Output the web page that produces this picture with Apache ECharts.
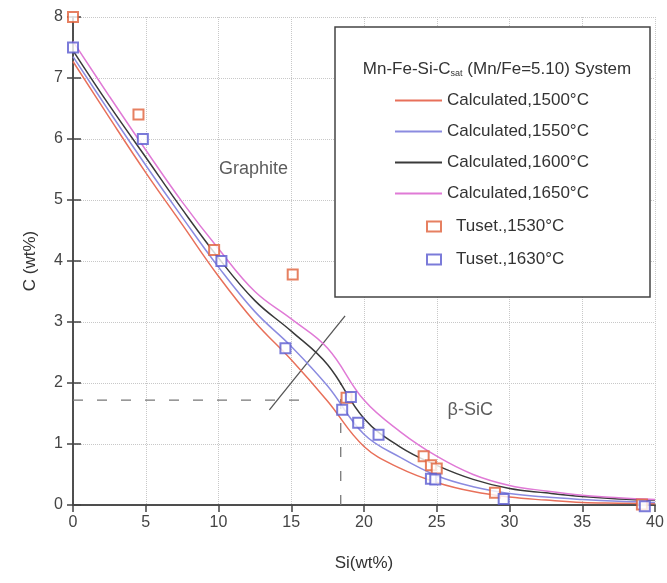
<!DOCTYPE html>
<html>
<head>
<meta charset="utf-8">
<script src="https://cdn.jsdelivr.net/npm/echarts@6/dist/echarts.min.js"></script>
<style>
  html, body { margin: 0; padding: 0; background: #fff; }
  #main { width: 667px; height: 583px; }
</style>
</head>
<body>
<div id="main"></div>
<script>
// ---------- data ----------
var xTicks = [0, 5, 10, 15, 20, 25, 30, 35, 40];

// calculated curves [Si, C], sampled every 2.5 wt% Si
var calc1500 = [[0,7.27],[2.5,6.35],[5,5.45],[7.5,4.6],[10,3.75],[12.5,3.0],[15,2.38],[17.5,1.7],[20,0.96],[22.5,0.6],[25,0.37],[27.5,0.22],[30,0.13],[32.5,0.08],[35,0.04],[37.5,0.03],[40,0.02]];
var calc1550 = [[0,7.35],[2.5,6.45],[5,5.57],[7.5,4.72],[10,3.9],[12.5,3.17],[15,2.6],[17.5,1.95],[20,1.16],[22.5,0.78],[25,0.48],[27.5,0.3],[30,0.19],[32.5,0.13],[35,0.09],[37.5,0.06],[40,0.04]];
var calc1600 = [[0,7.45],[2.5,6.55],[5,5.7],[7.5,4.85],[10,4.05],[12.5,3.35],[15,2.85],[17.5,2.3],[20,1.42],[22.5,0.95],[25,0.65],[27.5,0.42],[30,0.27],[32.5,0.2],[35,0.14],[37.5,0.1],[40,0.08]];
var calc1650 = [[0,7.6],[2.5,6.7],[5,5.82],[7.5,4.97],[10,4.2],[12.5,3.5],[15,3.05],[17.5,2.57],[20,1.72],[22.5,1.2],[25,0.8],[27.5,0.5],[30,0.32],[32.5,0.23],[35,0.16],[37.5,0.12],[40,0.09]];

// Tuset. measurements
var tuset1530 = [[0,8.0],[4.5,6.4],[9.7,4.18],[15.1,3.78],[18.8,1.76],[24.1,0.8],[24.6,0.65],[25.0,0.6],[29.0,0.2],[39.1,0.01]];
var tuset1630 = [[0,7.5],[4.8,6.0],[10.2,4.0],[14.6,2.57],[18.5,1.56],[19.1,1.77],[19.6,1.35],[21.0,1.15],[24.6,0.43],[24.9,0.42],[29.6,0.1],[39.3,-0.02]];

// annotations
var diagLine = [[13.5,1.56],[18.7,3.1]];
var dashH = [[0,1.72],[15.6,1.72]];
var dashV = [[18.4,0],[18.4,2.0]];
var regionLabels = [
    {value: [12.4, 5.5], name: 'Graphite'},
    {value: [27.3, 1.55], name: 'β-SiC'}
];

var lineNames = ['Calculated,1500°C', 'Calculated,1550°C', 'Calculated,1600°C', 'Calculated,1650°C'];
var pointNames = ['Tuset.,1530°C', 'Tuset.,1630°C'];
var lineColors = ['#e8705a', '#8b8be0', '#3a3a3a', '#e07ad6'];
var pointColors = ['#e0603a', '#5a5ad0'];

var font = '"Liberation Sans", Arial, sans-serif';

var chart = echarts.init(document.getElementById('main'));

function calcSeries(name, data, color) {
    return {
        name: name,
        type: 'line',
        data: data,
        smooth: 0.4,
        showSymbol: false,
        symbol: 'none',
        lineStyle: {color: color, width: 1.5},
        itemStyle: {color: color},
        z: 2
    };
}

function pointSeries(name, data, color) {
    return {
        name: name,
        type: 'scatter',
        data: data,
        symbol: 'emptyRect',
        symbolSize: 10,
        clip: false,
        itemStyle: {color: color, borderColor: color, borderWidth: 1.5},
        z: 5
    };
}

function plainLine(data, dash) {
    return {
        type: 'line',
        data: data,
        symbol: 'none',
        silent: true,
        lineStyle: {color: dash ? '#777' : '#555', width: 1.3, type: dash ? [10, 14] : 'solid'},
        z: 1
    };
}

var option = {
    animation: false,
    backgroundColor: '#fff',
    textStyle: {fontFamily: font},
    grid: {left: 73, right: 12, top: 17, bottom: 78},
    title: {
        text: 'Mn-Fe-Si-C{sub|sat} (Mn/Fe=5.10) System',
        left: 492,
        top: 55,
        textAlign: 'center',
        textStyle: {
            fontFamily: font, fontSize: 17, fontWeight: 'normal', color: '#333',
            rich: {sub: {fontSize: 9, verticalAlign: 'bottom', padding: [9, 0, 0, 0], color: '#333'}}
        },
        z: 10
    },
    graphic: [{
        type: 'rect',
        shape: {x: 335, y: 27, width: 315, height: 270},
        style: {fill: '#fff', stroke: '#444', lineWidth: 1.5},
        z: 8
    }],
    legend: [{
        data: lineNames,
        orient: 'vertical',
        left: 390,
        top: 86,
        icon: 'rect',
        itemWidth: 47,
        itemHeight: 2,
        itemGap: 12,
        textStyle: {fontFamily: font, fontSize: 17, color: '#333', lineHeight: 19},
        z: 10
    }, {
        data: pointNames,
        orient: 'vertical',
        left: 421,
        top: 212,
        itemWidth: 14,
        itemHeight: 10,
        itemGap: 14,
        textStyle: {fontFamily: font, fontSize: 17, color: '#333', lineHeight: 19, padding: [0, 0, 0, 10]},
        z: 10
    }],
    xAxis: [{
        type: 'value',
        min: 0, max: 40, interval: 5,
        name: 'Si(wt%)',
        nameLocation: 'middle',
        nameGap: 50,
        nameTextStyle: {fontFamily: font, fontSize: 17, color: '#333'},
        axisLine: {lineStyle: {color: '#444', width: 1.5}},
        axisTick: {show: true, length: 6, lineStyle: {color: '#444', width: 1.5}},
        axisLabel: {fontFamily: font, fontSize: 16, color: '#444', margin: 10},
        splitLine: {show: true, lineStyle: {color: '#c8c8c8', type: 'dotted', width: 1}}
    }, {
        type: 'value',
        position: 'top',
        min: 0, max: 40, interval: 5,
        axisLine: {show: true, lineStyle: {color: '#444', width: 1.5}},
        axisTick: {show: true, inside: true, length: 7, lineStyle: {color: '#444', width: 1.5}},
        axisLabel: {show: false},
        splitLine: {show: false}
    }],
    yAxis: [{
        type: 'value',
        min: 0, max: 8, interval: 1,
        name: 'C (wt%)',
        nameLocation: 'middle',
        nameGap: 34,
        nameTextStyle: {fontFamily: font, fontSize: 17, color: '#333'},
        axisLine: {show: true, lineStyle: {color: '#444', width: 1.5}},
        axisTick: {show: true, length: 6, lineStyle: {color: '#444', width: 1.5}},
        axisLabel: {fontFamily: font, fontSize: 16, color: '#444', margin: 10},
        splitLine: {show: true, lineStyle: {color: '#c8c8c8', type: 'dotted', width: 1}}
    }, {
        type: 'value',
        position: 'right',
        min: 0, max: 8, interval: 1,
        axisLine: {show: true, lineStyle: {color: '#444', width: 1.5}},
        axisTick: {show: true, length: 8, lineStyle: {color: '#444', width: 1.5}},
        axisLabel: {show: false},
        splitLine: {show: false}
    }],
    series: [
        calcSeries(lineNames[0], calc1500, lineColors[0]),
        calcSeries(lineNames[1], calc1550, lineColors[1]),
        calcSeries(lineNames[2], calc1600, lineColors[2]),
        calcSeries(lineNames[3], calc1650, lineColors[3]),
        pointSeries(pointNames[0], tuset1530, pointColors[0]),
        pointSeries(pointNames[1], tuset1630, pointColors[1]),
        plainLine(diagLine, false),
        plainLine(dashH, true),
        plainLine(dashV, true),
        {
            type: 'scatter',
            data: regionLabels,
            symbolSize: 0,
            silent: true,
            label: {
                show: true,
                position: 'inside',
                formatter: '{b}',
                fontFamily: font,
                fontSize: 18,
                color: '#333'
            }
        }
    ]
};

chart.setOption(option);
</script>
</body>
</html>
